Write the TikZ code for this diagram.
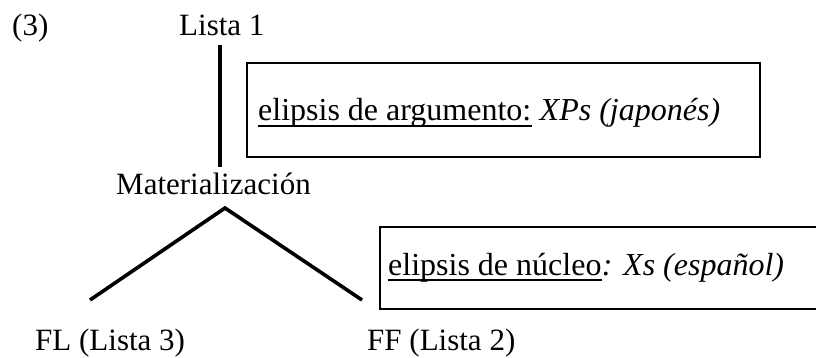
\documentclass[tikz,border=0pt]{standalone}
\usepackage{fontspec}
\setmainfont{Liberation Serif}
\begin{document}
\begin{tikzpicture}[x=1pt,y=-1pt,
  lbl/.style={inner sep=0pt,anchor=base west,font=\fontsize{31}{37}\selectfont},
  boxtxt/.style={inner sep=0pt,anchor=base west,font=\fontsize{32}{38}\selectfont},
  uline/.style={line width=1.8pt},
  branch/.style={line width=3.6pt},
  stem/.style={line width=4pt},
  boxline/.style={line width=2.6pt}]
\useasboundingbox (0,0) rectangle (816,358);
% texts
\node[lbl] (num) at (12,36) {(3)};
\node[lbl] (lista1) at (179,36) {Lista 1};
\node[lbl] (mat) at (116,195) {Materialización};
\node[lbl] (fl) at (35,350) {FL (Lista 3)};
\node[lbl] (ff) at (367,350) {FF (Lista 2)};
% upper box
\draw[boxline] (247,63) rectangle (760,157);
\node[boxtxt] (argu) at (258,121) {elipsis de argumento:};
\node[boxtxt] (argi) at (argu.base east) {\itshape\ XPs (japonés)};
\draw[uline] ([yshift=-5pt]argu.base west) -- ([yshift=-5pt]argu.base east);
% lower box
\draw[boxline] (830,227) -- (380,227) -- (380,309) -- (830,309);
\node[boxtxt] (nucu) at (388,275) {elipsis de núcleo};
\node[boxtxt] (nuci) at (nucu.base east) {\itshape : Xs (español)};
\draw[uline] ([yshift=-5pt]nucu.base west) -- ([yshift=-5pt]nucu.base east);
% connectors
\coordinate (vtop) at (220,45);
\coordinate (vbot) at (220,167);
\coordinate (apex) at (225,208);
\coordinate (lend) at (90,300);
\coordinate (rend) at (362,300);
\draw[stem] (vtop) -- (vbot);
\draw[branch] (lend) -- (apex) -- (rend);
\end{tikzpicture}
\end{document}
